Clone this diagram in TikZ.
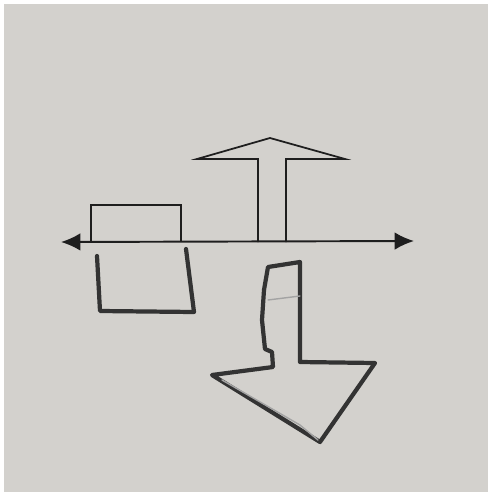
\documentclass[tikz,border=0pt]{standalone}
\usetikzlibrary{arrows.meta}
\definecolor{paper}{HTML}{D3D1CD}
\definecolor{ink}{HTML}{1E1E1E}
\definecolor{pencil}{HTML}{333333}
\tikzset{
  inkline/.style={draw=ink,line width=0.8pt,line join=miter},
  pencilline/.style={draw=pencil,line width=2.4pt,line join=round,line cap=round},
  faintline/.style={draw=pencil!45,line width=0.8pt,line cap=round}
}
\begin{document}
\begin{tikzpicture}[x=0.02cm,y=-0.02cm,>=Latex]
\useasboundingbox (0,0) rectangle (491,495);
\fill[white] (0,0) rectangle (491,495);
\fill[paper] (4,4) rectangle (488,492);
% axis
\coordinate (axl) at (61,242);
\coordinate (axr) at (414,241);
\draw[inkline,line width=1.1pt,{Latex[length=11pt,width=10pt]}-{Latex[length=11pt,width=10pt]}] (axl) -- (axr);
% block above the axis
\draw[inkline] (91,242) -- (91,205) -- (181,205) -- (181,242);
% upward arrow
\draw[inkline,line width=1pt] (258,242) -- (258,159) -- (197,159) -- (270,138)
  -- (345,159) -- (286,159) -- (286,242);
% hand drawn block below the axis
\draw[pencilline] (97,256) -- (100,311) -- (194,312) -- (186,249);
% hand drawn downward arrow
\draw[pencilline] (268,267) -- (300,262) -- (300,362) -- (375,363) -- (320,442)
  -- (212,375) -- (273,367) -- (272,352) -- (265,349) -- (262,320) -- (264,290) -- cycle;
\draw[faintline] (268,300) -- (300,296);
\draw[faintline] (222,380) -- (300,425) -- (318,440);
\end{tikzpicture}
\end{document}
